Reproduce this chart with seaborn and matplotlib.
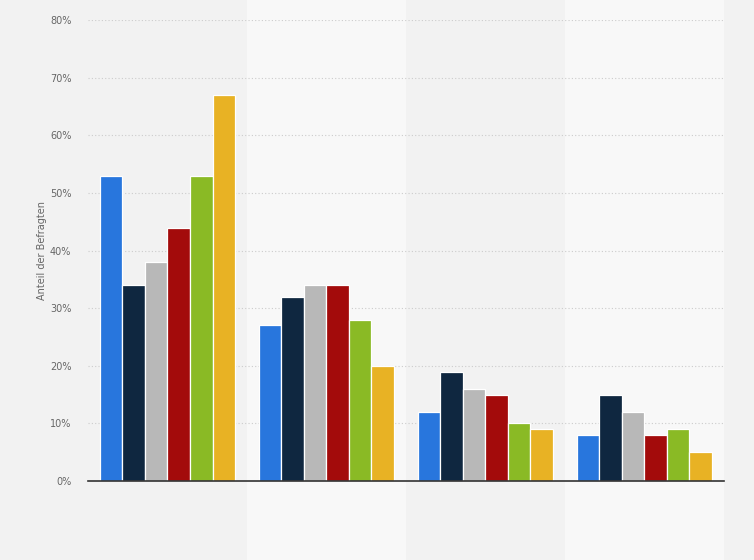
import pandas as pd
import seaborn as sns
import matplotlib.pyplot as plt
from matplotlib.patches import Rectangle
from matplotlib.transforms import blended_transform_factory
from matplotlib.ticker import FuncFormatter

# data (share of respondents in %)
groups = ['1', '2', '3', '4']
series = ['A', 'B', 'C', 'D', 'E', 'F']
values = {
    'A': [53, 27, 12, 8],
    'B': [34, 32, 19, 15],
    'C': [38, 34, 16, 12],
    'D': [44, 34, 15, 8],
    'E': [53, 28, 10, 9],
    'F': [67, 20, 9, 5],
}
colors = ['#2876dd', '#0f2740', '#b8b8b8', '#a30b0b', '#8aba25', '#e8b224']

rows = []
for s in series:
    for g, v in zip(groups, values[s]):
        rows.append({'group': g, 'series': s, 'value': v})
df = pd.DataFrame(rows)

sns.set_style('white')
plt.rcParams['font.family'] = ['DejaVu Sans']

fig = plt.figure(figsize=(7.54, 5.6), dpi=100)
fig.patch.set_facecolor('#f2f2f2')
ax = fig.add_axes([0.1167, 0.141, 0.8433, 0.823])
ax.set_facecolor('none')
ax.set_zorder(2)

# lighter bands behind every second group
tr = blended_transform_factory(ax.transData, fig.transFigure)
for i in (1, 3):
    fig.patches.append(Rectangle((i - 0.5, 0), 1, 1, transform=tr,
                                 facecolor='#f8f8f8', edgecolor='none', zorder=-1))

sns.barplot(data=df, x='group', y='value', hue='series', palette=colors,
            saturation=1, width=0.85, edgecolor='white', linewidth=0.9,
            legend=False, ax=ax, zorder=2)

ax.set_xlim(-0.5, 3.5)
ax.set_ylim(0, 80)
ax.set_yticks(range(0, 81, 10))
ax.yaxis.set_major_formatter(FuncFormatter(lambda v, p: f'{int(v)}%'))
ax.grid(axis='y', color='#cccccc', linestyle=(0, (1, 2)), linewidth=0.8, zorder=0)
ax.set_axisbelow(True)
ax.set_xticks([])
ax.set_xlabel('')
ax.set_ylabel('Anteil der Befragten', fontsize=7, color='#666666', labelpad=2)
ax.tick_params(axis='y', length=0, labelsize=7, labelcolor='#666666', pad=12)
for side in ('top', 'right', 'left'):
    ax.spines[side].set_visible(False)
ax.spines['bottom'].set_color('#333333')
ax.spines['bottom'].set_linewidth(1.2)
ax.spines['bottom'].set_zorder(5)

fig.savefig('out.png', dpi=100, facecolor=fig.get_facecolor())
